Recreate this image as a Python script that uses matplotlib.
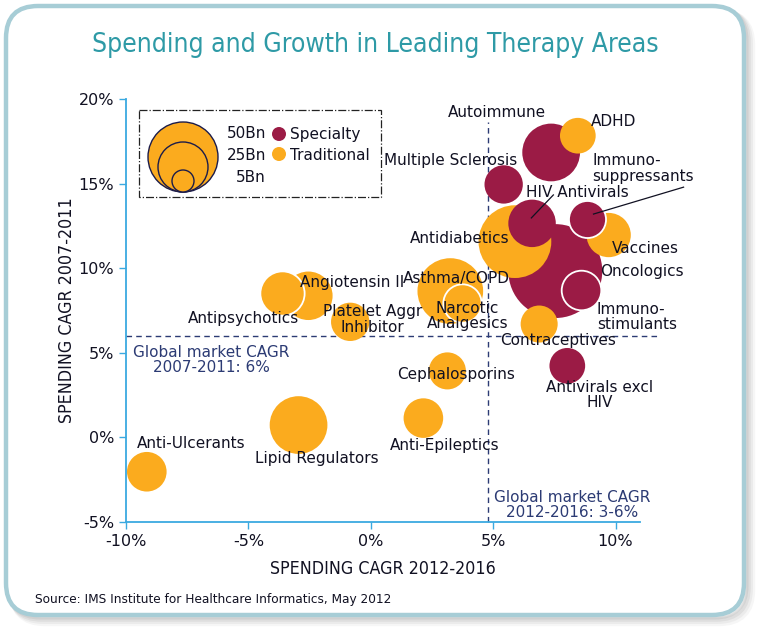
import numpy as np
import matplotlib
matplotlib.use("Agg")
import matplotlib.pyplot as plt
from matplotlib.patches import FancyBboxPatch, Circle, Rectangle

# ---------------- data ----------------
areas = ["Anti-Ulcerants", "Lipid Regulators", "Anti-Epileptics", "Cephalosporins",
         "Antivirals excl HIV", "Contraceptives", "Antipsychotics", "Angiotensin II",
         "Platelet Aggr Inhibitor", "Asthma/COPD", "Narcotic Analgesics", "Antidiabetics",
         "Oncologics", "Immunostimulants", "HIV Antivirals", "Immunosuppressants",
         "Vaccines", "Autoimmune", "ADHD", "Multiple Sclerosis"]
growth_2012_2016 = [-9.15, -2.95, 2.15, 3.13, 8.03, 6.88, -3.63, -2.55,
                    -0.84, 3.25, 3.72, 5.89, 7.54, 8.57, 6.59, 8.84,
                    9.72, 7.37, 8.46, 5.43]
growth_2007_2011 = [-2.03, 0.73, 1.14, 3.93, 4.23, 6.70, 8.51, 8.37,
                    6.83, 8.65, 7.95, 11.57, 9.83, 8.70, 12.65, 12.89,
                    11.96, 16.84, 17.83, 14.95]
spending_bn = [16, 34, 16, 14, 13, 14, 20, 24,
               15, 44, 15, 54, 90, 16, 23, 14,
               20, 34, 13, 15]
segment = ["T", "T", "T", "T", "S", "T", "T", "T",
           "T", "T", "T", "T", "S", "S", "S", "S",
           "T", "S", "T", "S"]
white_edge = ["Antipsychotics", "Narcotic Analgesics", "Immunostimulants", "Immunosuppressants"]

x_ticks = [-10, -5, 0, 5, 10]
y_ticks = [-5, 0, 5, 10, 15, 20]
global_2007_2011 = 6.0
global_2012_2016 = 4.8

MAROON = "#9b1b45"
ORANGE = "#fbab1e"
NAVY = "#2c3b74"
TXT = "#111122"
BLUE = "#3aa9e0"

labels = [
    ("Autoimmune", 5.17, 19.23, "center"),
    ("ADHD", 9.0, 18.65, "left"),
    ("Multiple Sclerosis", 3.25, 16.39, "center"),
    ("Immuno-\nsuppressants", 9.04, 15.89, "left"),
    ("HIV Antivirals", 8.45, 14.49, "center"),
    ("Antidiabetics", 3.62, 11.78, "center"),
    ("Vaccines", 11.23, 11.19, "center"),
    ("Oncologics", 11.06, 9.83, "center"),
    ("Asthma/COPD", 3.50, 9.42, "center"),
    ("Narcotic\nAnalgesics", 3.95, 7.17, "center"),
    ("Immuno-\nstimulants", 9.24, 7.11, "left"),
    ("Contraceptives", 7.67, 5.75, "center"),
    ("Cephalosporins", 3.50, 3.74, "center"),
    ("Antivirals excl\nHIV", 9.35, 2.50, "center"),
    ("Angiotensin II", -0.76, 9.18, "center"),
    ("Antipsychotics", -5.21, 7.0, "center"),
    ("Platelet Aggr\nInhibitor", 0.06, 6.96, "center"),
    ("Anti-Ulcerants", -7.34, -0.39, "center"),
    ("Lipid Regulators", -2.19, -1.22, "center"),
    ("Anti-Epileptics", 3.01, -0.45, "center"),
]
leaders = [((6.56, 12.97), (7.46, 14.33)), ((9.10, 13.20), (12.78, 14.79))]

plt.rcParams["font.family"] = ["DejaVu Sans"]

W, H = 757, 632
fig = plt.figure(figsize=(W / 100, H / 100), dpi=100)
fig.patch.set_facecolor("white")

ov = fig.add_axes([0, 0, 1, 1], zorder=0)
ov.set_xlim(0, W)
ov.set_ylim(H, 0)
ov.axis("off")

for i, a in enumerate([0.06, 0.08, 0.10, 0.12]):
    off = 7 - i * 1.5
    ov.add_patch(FancyBboxPatch((6 + off, 6 + off), 738, 609,
                                boxstyle="round,pad=0,rounding_size=32",
                                fc="none", ec="#707070", lw=3 + (3 - i), alpha=a))
ov.add_patch(FancyBboxPatch((6, 6), 738, 609, boxstyle="round,pad=0,rounding_size=32",
                            fc="white", ec="#a7cdd6", lw=3.2))

fig.text(375 / W, 1 - 45 / H, "Spending and Growth in Leading Therapy Areas",
         fontsize=19, fontstretch="condensed", color="#2e9aa6", ha="center", va="center")
fig.text(35 / W, 1 - 599 / H, "Source: IMS Institute for Healthcare Informatics, May 2012",
         fontsize=9.7, fontstretch="condensed", color=TXT, ha="left", va="center")

ov.add_patch(Rectangle((139, 110), 242, 87, fc="none", ec="#222222", lw=0.9, ls="-."))
for r in [35, 25, 11]:
    ov.add_patch(Circle((183, 192 - r), r, fc=ORANGE, ec="#1c1c4a", lw=1.0))
ov.text(266, 133, "50Bn", ha="right", va="center", fontsize=11, color=TXT)
ov.text(266, 155, "25Bn", ha="right", va="center", fontsize=11, color=TXT)
ov.text(266, 178, "5Bn", ha="right", va="center", fontsize=11, color=TXT)
ov.add_patch(Circle((279, 134), 7, fc=MAROON, ec="none"))
ov.add_patch(Circle((279, 154), 7, fc=ORANGE, ec="none"))
ov.text(290, 134, "Specialty", ha="left", va="center", fontsize=11, color=TXT)
ov.text(290, 155, "Traditional", ha="left", va="center", fontsize=11, color=TXT)

ax = fig.add_axes([126 / W, 1 - 522 / H, 514 / W, 423 / H], zorder=1)
ax.patch.set_alpha(0)
ax.set_xlim(-10, 11)
ax.set_ylim(-5, 20)

order = np.argsort(spending_bn)[::-1]
scale = 2540 / 50.0
for i in order:
    col = MAROON if segment[i] == "S" else ORANGE
    we = areas[i] in white_edge
    ax.scatter(growth_2012_2016[i], growth_2007_2011[i], s=spending_bn[i] * scale,
               c=col, edgecolors="white" if we else "none", linewidths=1.3 if we else 0,
               zorder=3, clip_on=False)

ax.plot([-10, 11.7], [global_2007_2011] * 2, ls=(0, (4, 3)), color=NAVY, lw=1.0,
        zorder=2, clip_on=False)
ax.plot([global_2012_2016] * 2, [-5, 18.66], ls=(0, (4, 3)), color=NAVY, lw=1.0,
        zorder=2, clip_on=False)

for t, x, y, ha in labels:
    ax.text(x, y, t, ha=ha, va="center", fontsize=11, color=TXT, zorder=5,
            linespacing=1.05, multialignment="left" if ha == "left" else "center",
            clip_on=False)
for (p0, p1) in leaders:
    ax.plot([p0[0], p1[0]], [p0[1], p1[1]], color=TXT, lw=0.9, zorder=6, clip_on=False)

ax.text(-6.52, 4.57, "Global market CAGR\n2007-2011: 6%", ha="center", va="center",
        fontsize=11, color=NAVY, linespacing=0.95, zorder=5)
ax.text(8.24, -4.02, "Global market CAGR\n2012-2016: 3-6%", ha="center", va="center",
        fontsize=11, color=NAVY, linespacing=1.0, zorder=5)

for s in ["top", "right"]:
    ax.spines[s].set_visible(False)
for s in ["left", "bottom"]:
    ax.spines[s].set_color(BLUE)
    ax.spines[s].set_linewidth(1.3)
ax.set_xticks(x_ticks)
ax.set_yticks(y_ticks)
ax.set_xticklabels([f"{v}%" for v in x_ticks])
ax.set_yticklabels([f"{v}%" for v in y_ticks])
ax.tick_params(axis="both", colors=BLUE, labelcolor=TXT, labelsize=11.5, length=5, width=1.0)
ax.set_xlabel("SPENDING CAGR 2012-2016", fontstretch="condensed", fontsize=12.8,
              color=TXT, labelpad=8)
ax.set_ylabel("SPENDING CAGR 2007-2011", fontstretch="condensed", fontsize=12.8,
              color=TXT, labelpad=2)

fig.savefig("out.png", dpi=100, facecolor="white")
